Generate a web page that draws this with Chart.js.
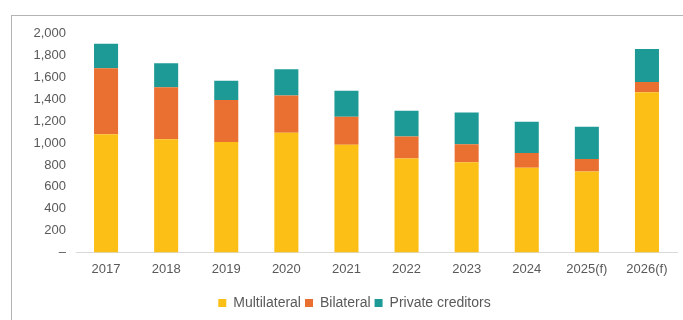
<!DOCTYPE html>
<html>
<head>
<meta charset="utf-8">
<script src="https://cdn.jsdelivr.net/npm/chart.js@4"></script>
<style>
  html, body { margin: 0; padding: 0; background: #fff; }
  #frame {
    position: absolute;
    left: 11px;
    top: 15px;
    width: 671px;
    height: 304px;
    border-top: 1px solid #b4b4b4;
    border-left: 1px solid #b4b4b4;
  }
  #debt-chart { display: block; }
</style>
</head>
<body>
<div id="frame">
  <canvas id="debt-chart" width="671" height="304"></canvas>
</div>
<script>
// years and debt service by creditor type
const years = ["2017", "2018", "2019", "2020", "2021", "2022", "2023", "2024", "2025(f)", "2026(f)"];
const multilateral = [1080, 1035, 1010, 1095, 985, 860, 825, 775, 740, 1465];
const bilateral = [605, 475, 385, 340, 255, 200, 165, 135, 115, 95];
const privateCreditors = [225, 220, 175, 240, 240, 235, 290, 285, 295, 300];
const yTickLabels = ["–", "200", "400", "600", "800", "1,000", "1,200", "1,400", "1,600", "1,800", "2,000"];

const colores = {
  multilateral: "#FBBF16",
  bilateral: "#EA7031",
  privado: "#1D9A96",
  texto: "#595959",
  eje: "#d9d9d9",
};

const familia = "'Liberation Sans', Arial, sans-serif";
const fuenteEje = { family: familia, size: 13 };
const fuenteLeyenda = { family: familia, size: 14 };

function serie(label, data, color) {
  return {
    label,
    data,
    backgroundColor: color,
    barPercentage: 0.4,
    categoryPercentage: 1,
  };
}

new Chart(document.getElementById("debt-chart"), {
  type: "bar",
  data: {
    labels: years,
    datasets: [
      serie("Multilateral", multilateral, colores.multilateral),
      serie("Bilateral", bilateral, colores.bilateral),
      serie("Private creditors", privateCreditors, colores.privado),
    ],
  },
  options: {
    responsive: false,
    animation: false,
    layout: { padding: { top: 14, right: 6, left: 20, bottom: 0 } },
    plugins: {
      tooltip: { enabled: false },
      legend: {
        position: "bottom",
        labels: {
          color: colores.texto,
          font: fuenteLeyenda,
          boxWidth: 8,
          boxHeight: 8,
          padding: 4,
        },
      },
    },
    scales: {
      x: {
        stacked: true,
        grid: { display: false },
        border: { color: colores.eje, width: 1 },
        // extra room under the year labels, before the legend
        afterFit: axis => { axis.height += 14; },
        ticks: { color: colores.texto, font: fuenteEje, padding: 1 },
      },
      y: {
        stacked: true,
        min: 0,
        max: 2000,
        grid: { display: false, drawTicks: false },
        border: { display: false },
        afterFit: axis => { axis.width = 44; },
        ticks: {
          stepSize: 200,
          padding: 10,
          color: colores.texto,
          font: fuenteEje,
          callback: (value, i) => yTickLabels[i],
        },
      },
    },
  },
});
</script>
</body>
</html>
